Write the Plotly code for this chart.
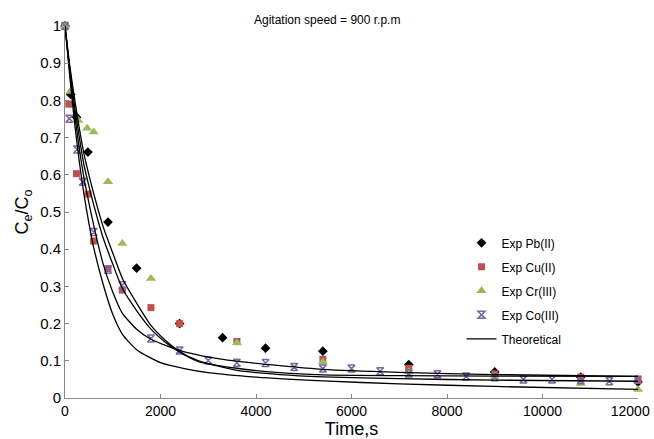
import plotly.graph_objects as go

# Experimental data
t_pb = [0, 120, 240, 480, 900, 1500, 2400, 3300, 4200, 5400, 7200, 9000, 10800, 12000]
y_pb = [1.0, 0.816, 0.755, 0.661, 0.473, 0.349, 0.2, 0.162, 0.134, 0.126, 0.09, 0.07, 0.056, 0.043]

t_cu = [0, 80, 240, 480, 600, 900, 1200, 1800, 2400, 3600, 5400, 7200, 9000, 10800, 12000]
y_cu = [1.0, 0.79, 0.603, 0.548, 0.422, 0.348, 0.29, 0.243, 0.2, 0.152, 0.104, 0.08, 0.065, 0.056, 0.05]

t_cr = [0, 110, 280, 465, 600, 900, 1200, 1800, 3600, 5400, 7200, 9000, 10800, 12000]
y_cr = [1.0, 0.824, 0.746, 0.725, 0.715, 0.581, 0.415, 0.321, 0.148, 0.097, 0.07, 0.058, 0.039, 0.023]

t_co = [0, 90, 250, 370, 600, 900, 1200, 1800, 2400, 3000, 3600, 4200, 4800, 5400, 6000,
        6600, 7200, 7800, 8400, 9000, 9600, 10200, 10800, 11400, 12000]
y_co = [1.0, 0.751, 0.668, 0.581, 0.446, 0.345, 0.303, 0.16, 0.128, 0.101, 0.095, 0.094, 0.083, 0.079, 0.079,
        0.072, 0.066, 0.064, 0.058, 0.056, 0.05, 0.05, 0.048, 0.045, 0.049]

# Theoretical curves
t_a = [0, 100, 200, 300, 400, 500, 600, 800, 1000, 1200, 1500, 2000, 2500, 3000, 4000, 5400, 7000, 9000, 12000]
y_a = [1.0, 0.865, 0.74, 0.635, 0.545, 0.47, 0.405, 0.305, 0.225, 0.172, 0.13, 0.095, 0.079, 0.068, 0.056, 0.046, 0.038, 0.031, 0.023]

t_b = [0, 100, 200, 300, 400, 500, 600, 800, 1000, 1200, 1500, 1800, 2400, 3000, 3600, 4500, 5400, 7000, 9000, 12000]
y_b = [1.0, 0.875, 0.765, 0.67, 0.59, 0.525, 0.465, 0.36, 0.285, 0.228, 0.185, 0.158, 0.128, 0.11, 0.099, 0.087, 0.077, 0.069, 0.063, 0.058]

t_c = [0, 100, 200, 300, 400, 500, 600, 800, 1000, 1200, 1500, 1800, 2100, 2400, 2800, 3600, 4500, 5400, 7000, 9000, 12000]
y_c = [1.0, 0.885, 0.785, 0.7, 0.625, 0.57, 0.52, 0.43, 0.36, 0.295, 0.235, 0.185, 0.15, 0.123, 0.098, 0.08, 0.068, 0.062, 0.06, 0.059, 0.058]

t_d = [0, 100, 200, 300, 400, 500, 600, 800, 1000, 1200, 1500, 1800, 2100, 2400, 2800, 3600, 4500, 5400, 7000, 9000, 12000]
y_d = [1.0, 0.893, 0.805, 0.725, 0.655, 0.6, 0.55, 0.46, 0.39, 0.322, 0.255, 0.195, 0.155, 0.125, 0.1, 0.074, 0.063, 0.057, 0.052, 0.048, 0.045]

x_ticks = [0, 2000, 4000, 6000, 8000, 10000, 12000]
x_tick_text = ["0", "2000", "4000", "6000", "8000", "10000", "12000\u00a0\u00a0\u00a0\u00a0"]
y_ticks = [0, 0.1, 0.2, 0.3, 0.4, 0.5, 0.6, 0.7, 0.8, 0.9, 1]
y_tick_text = ["0", "0.1", "0.2", "0.3", "0.4", "0.5", "0.6", "0.7", "0.8", "0.9", "1"]

FONT = "Arial, Liberation Sans, sans-serif"

fig = go.Figure()

fig.add_trace(go.Scatter(x=t_pb, y=y_pb, mode="markers", name="Exp Pb(II)", legendgroup="pb",
                         marker=dict(symbol="diamond", size=7.5, color="black"), cliponaxis=False))
fig.add_trace(go.Scatter(x=t_cu, y=y_cu, mode="markers", name="Exp Cu(II)", legendgroup="cu",
                         marker=dict(symbol="square", size=7, color="#C0504D"), cliponaxis=False))
fig.add_trace(go.Scatter(x=t_cr, y=y_cr, mode="markers", name="Exp Cr(III)", legendgroup="cr",
                         marker=dict(symbol="triangle-up", size=9, color="#9BBB59"), cliponaxis=False))
fig.add_trace(go.Scatter(x=t_co, y=y_co, mode="markers", name="Exp Co(III)", legendgroup="co",
                         marker=dict(symbol="hourglass-open", size=7, color="#8064A2",
                                     line=dict(color="#8064A2", width=1.5)), cliponaxis=False))

for i, (tx, ty) in enumerate([(t_a, y_a), (t_b, y_b), (t_c, y_c), (t_d, y_d)]):
    fig.add_trace(go.Scatter(x=tx, y=ty, mode="lines", name="Theoretical", legendgroup="theo",
                             showlegend=(i == 0),
                             line=dict(color="black", width=1.3, shape="spline", smoothing=0.6)))

fig.update_layout(
    width=654, height=439,
    margin=dict(l=65, r=16, t=26, b=41, autoexpand=False),
    paper_bgcolor="white", plot_bgcolor="white",
    font=dict(family=FONT, color="black"),
    showlegend=True,
    legend=dict(x=0.692, y=0.456, xanchor="left", yanchor="top",
                font=dict(size=12, family=FONT), tracegroupgap=5,
                traceorder="grouped", bgcolor="rgba(0,0,0,0)"),
    annotations=[dict(text="Agitation speed = 900 r.p.m", xref="paper", yref="paper",
                      x=0.457, y=1.0, yshift=6, xanchor="center", yanchor="middle",
                      showarrow=False, font=dict(size=12, family=FONT))],
)

fig.update_xaxes(range=[0, 12000], tickvals=x_ticks, ticktext=x_tick_text, ticks="inside", ticklen=4,
                 tickcolor="#888", automargin=False, ticklabeloverflow="allow",
                 showline=True, linecolor="#888", linewidth=1, showgrid=False, zeroline=False,
                 tickfont=dict(size=14, family=FONT),
                 title=dict(text="Time,s", font=dict(size=18, family=FONT), standoff=3))
fig.update_yaxes(range=[0, 1], tickvals=y_ticks, ticktext=y_tick_text, ticks="inside", ticklen=4,
                 tickcolor="#888", automargin=False, showline=True, linecolor="#888", linewidth=1,
                 showgrid=False, zeroline=False, tickfont=dict(size=15, family=FONT),
                 title=dict(text="C<sub>e</sub>/C<sub>o</sub>", font=dict(size=18, family=FONT), standoff=6))

fig.write_html("out.html")
